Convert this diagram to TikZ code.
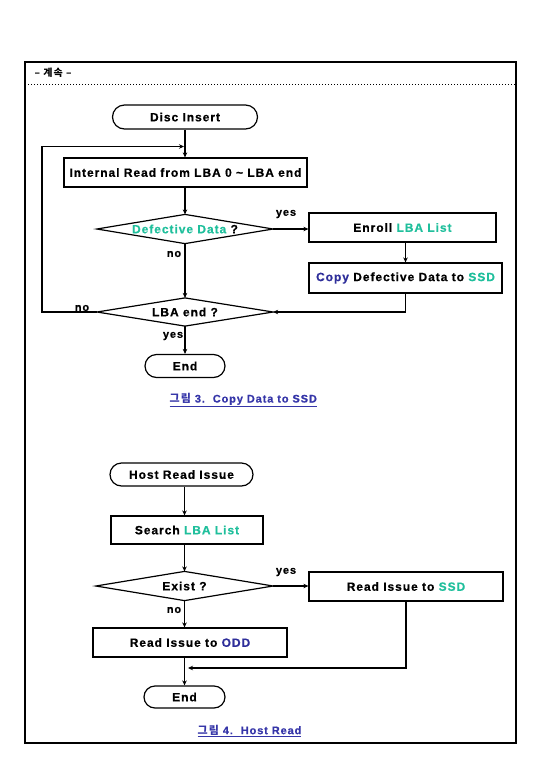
\documentclass[tikz,border=0pt]{standalone}
\usepackage{fontspec}
\usetikzlibrary{arrows.meta}
\newfontfamily\ff[LetterSpace=8,FakeBold=0.6]{Liberation Sans}
\newfontfamily\kr[LetterSpace=10]{Noto Sans CJK KR}
\definecolor{teal1}{HTML}{20BF9C}
\definecolor{navy1}{HTML}{2E2E9A}
\definecolor{capblue}{HTML}{3535A8}
\begin{document}
\begin{tikzpicture}[x=1pt,y=-1pt, line width=1.2pt,
  >={Stealth[length=5pt,width=4.5pt]},
  box/.style={draw, rectangle, inner sep=0pt, font=\ff\bfseries\fontsize{12}{14}\selectfont},
  term/.style={draw, rectangle, inner sep=0pt, font=\ff\bfseries\fontsize{12}{14}\selectfont},
  dia/.style={rectangle, inner sep=0pt, font=\ff\bfseries\fontsize{12}{14}\selectfont},
  lbl/.style={inner sep=0pt, font=\ff\bfseries\fontsize{11}{13}\selectfont},
  figcap/.style={inner sep=0pt, text=capblue, font=\ff\bfseries\fontsize{11}{13}\selectfont}]
\useasboundingbox (0,0) rectangle (540,780);
% frame
\draw[line width=1.8pt] (25,62) rectangle (516,743);
\draw[line width=1pt, dotted] (25,84.5) -- (516,84.5);
\node[inner sep=0pt, anchor=west, font=\kr\bfseries\fontsize{10}{12}\selectfont] (hdr) at (34,73) {– 계속 –};
% ---- figure 3
\node[term, rounded corners=12pt, minimum width=145pt, minimum height=24pt] (disc) at (185,117) {Disc Insert};
\node[box, minimum width=243pt, minimum height=29pt] (int) at (185.5,172.5) {Internal Read from LBA 0 \textasciitilde{} LBA end};
\node[dia, minimum width=175pt, minimum height=28pt] (def) at (185,229) {\textcolor{teal1}{Defective Data} ?};
\draw (def.north) -- (def.east) -- (def.south) -- (def.west) -- cycle;
\node[box, minimum width=187pt, minimum height=29pt] (enr) at (402.5,227.5) {Enroll \textcolor{teal1}{LBA List}};
\node[box, minimum width=193pt, minimum height=30pt] (cpy) at (405.5,278) {\textcolor{navy1}{Copy} Defective Data to \textcolor{teal1}{SSD}};
\node[dia, minimum width=175pt, minimum height=27pt] (lba) at (185,312) {LBA end ?};
\draw (lba.north) -- (lba.east) -- (lba.south) -- (lba.west) -- cycle;
\node[term, rounded corners=11.5pt, minimum width=80pt, minimum height=23pt] (end1) at (185,366) {End};
\node[figcap, anchor=west] (cap1) at (169,400) {\underline{{\kr 그림} 3.\ \ Copy Data to SSD}};
\coordinate (lc) at (42,146.5);
\coordinate (lj) at (184,146.5);
\draw[->] (disc.south) -- (int.north -| disc.south);
\draw[->] (int.south -| def.north) -- (def.north);
\draw[->] (def.east) -- (enr.west |- def.east);
\draw[->] (enr.south -| cpy.north) -- (cpy.north);
\draw[->] (def.south) -- (lba.north);
\draw[->] (cpy.south) |- (lba.east);
\draw[->] (lba.west) -- (lba.west -| lc) -- (lc) -- (lj);
\draw[->] (lba.south) -- (end1.north);
\node[lbl] (y1) at (286,214) {yes};
\node[lbl] (n1) at (174,254) {no};
\node[lbl] (n2) at (82,308) {no};
\node[lbl] (y2) at (173,336) {yes};
% ---- figure 4
\node[term, rounded corners=11.5pt, minimum width=143pt, minimum height=23pt] (host) at (181.5,474.5) {Host Read Issue};
\node[box, minimum width=152pt, minimum height=28pt] (srch) at (187,530) {Search \textcolor{teal1}{LBA List}};
\node[dia, minimum width=176pt, minimum height=28pt] (ex) at (184.5,586) {Exist ?};
\draw (ex.north) -- (ex.east) -- (ex.south) -- (ex.west) -- cycle;
\node[box, minimum width=194pt, minimum height=29pt] (ssd) at (406,586.5) {Read Issue to \textcolor{teal1}{SSD}};
\node[box, minimum width=194pt, minimum height=29pt] (odd) at (190,642.5) {Read Issue to \textcolor{navy1}{ODD}};
\node[term, rounded corners=11pt, minimum width=81pt, minimum height=22pt] (end2) at (184.5,697) {End};
\node[figcap, anchor=west] (cap2) at (197,731) {\underline{{\kr 그림} 4.\ \ Host Read}};
\coordinate (jn) at (188,668);
\draw[->] (host.south -| ex.north) -- (srch.north -| ex.north);
\draw[->] (srch.south -| ex.north) -- (ex.north);
\draw[->] (ex.east) -- (ssd.west |- ex.east);
\draw[->] (ex.south) -- (odd.north -| ex.south);
\draw[->] (odd.south -| end2.north) -- (end2.north);
\draw[->] (ssd.south) |- (jn);
\node[lbl] (y3) at (286,572) {yes};
\node[lbl] (n3) at (174,610) {no};
\end{tikzpicture}
\end{document}
